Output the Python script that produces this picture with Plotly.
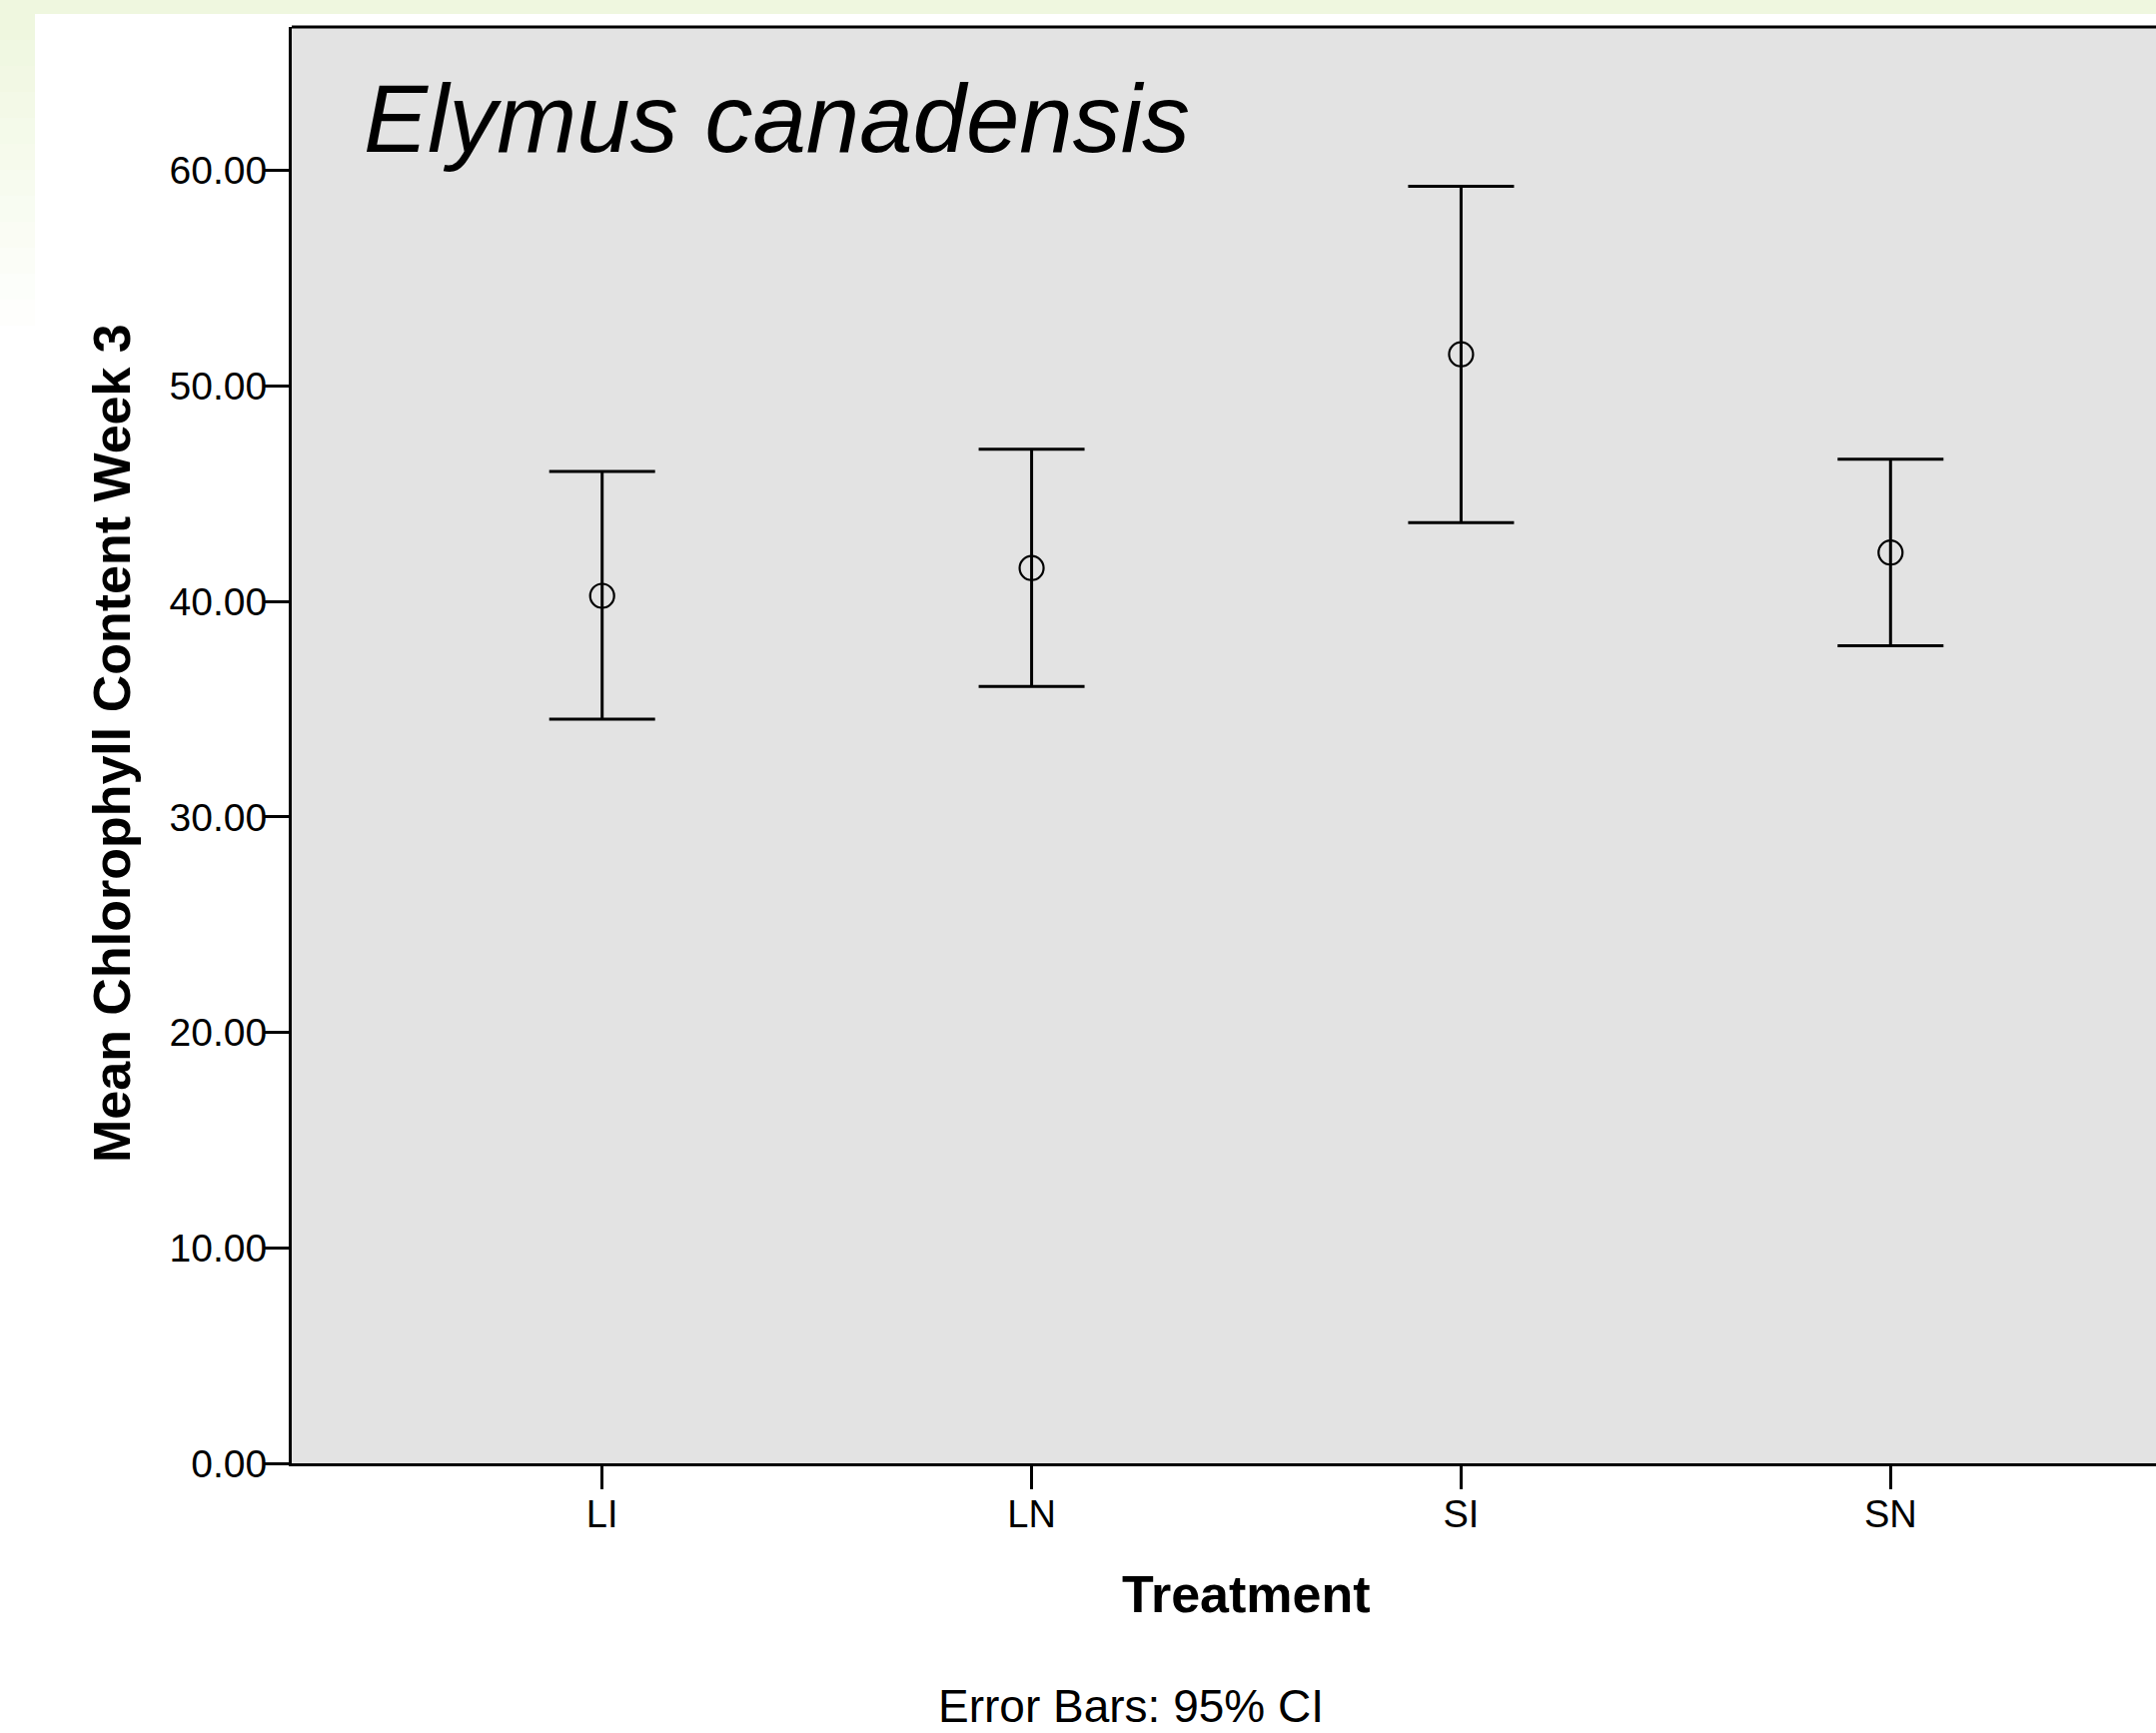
import plotly.graph_objects as go

# ---- data ----
treatments = ["LI", "LN", "SI", "SN"]
means = [40.26, 41.55, 51.47, 42.27]
ci_upper = [46.03, 47.06, 59.27, 46.60]
ci_lower = [34.54, 36.06, 43.66, 37.94]
y_ticks = [0, 10, 20, 30, 40, 50, 60]
y_tick_labels = ["0.00", "10.00", "20.00", "30.00", "40.00", "50.00", "60.00"]

W, H = 2158, 1735
L, R, T, B = 292, 2158, 27, 1465  # plot area in pixels
PW, PH = R - L, B - T


def px(x):
    return (x - L) / PW


def py(y):
    return (B - y) / PH


FONT = "Liberation Sans, Arial, Helvetica, sans-serif"
cat_idx = list(range(len(treatments)))

fig = go.Figure()
fig.add_trace(go.Scatter(
    x=cat_idx, y=means, mode="markers",
    marker=dict(symbol="circle-open", size=24, color="black", line=dict(width=2.2, color="black")),
    error_y=dict(type="data", symmetric=False,
                 array=[u - m for u, m in zip(ci_upper, means)],
                 arrayminus=[m - lo for m, lo in zip(means, ci_lower)],
                 color="black", thickness=3, width=53),
    showlegend=False, hoverinfo="skip",
))

shapes = []
green = "rgb(239,247,223)"
# top green band
shapes.append(dict(type="rect", xref="paper", yref="paper", x0=px(0), x1=px(W), y0=py(14), y1=py(0),
                   fillcolor=green, line=dict(width=0), layer="below"))
# left fading band
n = 12
for i in range(n):
    y0p = 14 + i * 26
    shapes.append(dict(type="rect", xref="paper", yref="paper", x0=px(0), x1=px(35),
                       y0=py(y0p + 26), y1=py(y0p), fillcolor=green, opacity=1 - i / n,
                       line=dict(width=0), layer="below"))
# top frame line
shapes.append(dict(type="line", xref="paper", yref="paper", x0=0, x1=1, y0=1, y1=1,
                   line=dict(color="black", width=3)))

annotations = [
    dict(text="Elymus canadensis", xref="paper", yref="paper", x=px(362), y=py(118),
         xanchor="left", yanchor="middle", showarrow=False,
         font=dict(family=FONT, size=96, color="black", style="italic")),
    dict(text="<b>Mean Chlorophyll Content Week 3</b>", xref="paper", yref="paper",
         x=px(112), y=py(744), xanchor="center", yanchor="middle", textangle=-90,
         showarrow=False, font=dict(family=FONT, size=52, color="black")),
    dict(text="<b>Treatment</b>", xref="paper", yref="paper", x=px(1247), y=py(1596),
         xanchor="center", yanchor="middle", showarrow=False,
         font=dict(family=FONT, size=52, color="black")),
    dict(text="Error Bars: 95% CI", xref="paper", yref="paper", x=px(1132), y=py(1708),
         xanchor="center", yanchor="middle", showarrow=False,
         font=dict(family=FONT, size=46, color="black")),
]

x_unit = (1892.3 - 602.7) / 3
x0 = -(602.7 - L) / x_unit
x1 = 3 + (R - 1892.3) / x_unit

fig.update_layout(
    width=W, height=H,
    margin=dict(l=L, r=W - R, t=T, b=H - B, pad=0),
    paper_bgcolor="white", plot_bgcolor="rgb(227,227,227)",
    font=dict(family=FONT, color="black"),
    shapes=shapes, annotations=annotations,
    xaxis=dict(range=[x0, x1], tickmode="array", tickvals=cat_idx, ticktext=treatments,
               showgrid=False, zeroline=False, showline=True, linecolor="black", linewidth=3,
               ticks="outside", ticklen=23, tickwidth=3, tickcolor="black",
               tickfont=dict(size=38, family=FONT), ticklabelstandoff=-8),
    yaxis=dict(range=[0, (B - T) / ((1465 - 170.7) / 60)], tickmode="array", tickvals=y_ticks,
               ticktext=y_tick_labels, showgrid=False, zeroline=False, showline=True,
               linecolor="black", linewidth=3, ticks="outside", ticklen=24, tickwidth=3,
               tickcolor="black", tickfont=dict(size=39, family=FONT), ticklabelstandoff=-10),
)

fig.write_html(
    "out.html",
    config={"displayModeBar": False},
    post_script="document.body.style.margin='0';document.body.style.overflow='hidden';"
                "document.documentElement.style.overflow='hidden';",
)
